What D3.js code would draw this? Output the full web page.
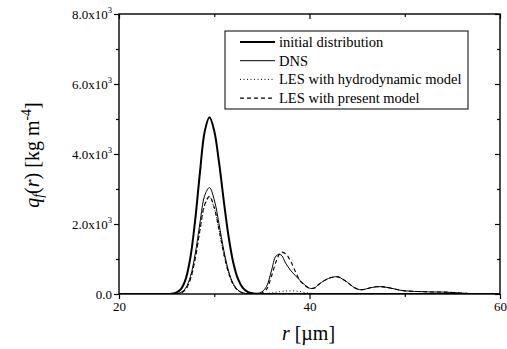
<!DOCTYPE html>
<html>
<head>
<meta charset="utf-8">
<script src="https://cdn.jsdelivr.net/npm/d3@7"></script>
</head>
<body style="margin:0;background:#fff">
<svg id="chart" width="507" height="349" style="display:block"></svg>
<script>
// ---- data ----
const radius = [20,20.5,21,21.5,22,22.5,23,23.5,24,24.5,25,25.5,26,26.5,27,27.5,28,28.5,29,29.5,
  30,30.5,31,31.5,32,32.5,33,33.5,34,34.5,35,35.5,36,36.5,37,37.5,38,38.5,39,39.5,
  40,40.5,41,41.5,42,42.5,43,43.5,44,44.5,45,45.5,46,46.5,47,47.5,48,48.5,49,49.5,
  50,50.5,51,51.5,52,52.5,53,53.5,54,54.5,55,55.5,56,56.5,57,57.5,58,58.5,59,59.5,60];

const initialDist = [0,0,0,0,0,0,0,0,0,0,1,8,37,138,423,1050,2118,3478,4645,5048,
  4659,3765,2663,1650,894,424,176,64,20,6,0,0,0,0,0,0,0,0,0,0,
  0,0,0,0,0,0,0,0,0,0,0,0,0,0,0,0,0,0,0,0,
  0,0,0,0,0,0,0,0,0,0,0,0,0,0,0,0,0,0,0,0,0];

const dns = [0,0,0,0,0,0,0,0,0,0,0,0,9,45,171,502,1144,2034,2815,3040,
  2691,2004,1254,660,292,108,34,10,4,15,60,220,660,1090,1120,880,680,530,390,260,
  165,170,280,375,445,485,490,420,330,220,145,120,150,185,205,210,195,170,140,110,
  90,82,75,70,65,60,58,56,55,50,45,35,25,18,10,6,3,1,0,0,0];

const lesHydro = [0,0,0,0,0,0,0,0,0,0,0,0,5,28,130,420,990,1800,2530,2760,
  2450,1830,1140,600,265,98,30,9,2,2,5,15,30,50,70,85,90,85,70,45,
  25,10,3,0,0,0,0,0,0,0,0,0,0,0,0,0,0,0,0,0,
  0,0,0,0,0,0,0,0,0,0,0,0,0,0,0,0,0,0,0,0,0];

const lesPresent = [0,0,0,0,0,0,0,0,0,0,0,0,5,30,135,430,1010,1830,2560,2790,
  2470,1840,1150,605,268,99,31,9,3,8,30,140,500,930,1190,1150,950,650,380,250,
  165,170,280,375,445,485,490,420,330,220,145,120,150,185,205,210,195,170,140,110,
  90,82,75,70,65,60,58,56,55,50,45,35,25,18,10,6,3,1,0,0,0];

const xMajorTicks = [20,40,60];
const xMinorTicks = [30,50];
const yMajorTicks = [0,2000,4000,6000,8000];
const yMajorLabels = ["0.0","2.0x10","4.0x10","6.0x10","8.0x10"];
const yMinorTicks = [1000,3000,5000,7000];
const seriesNames = ["initial distribution","DNS","LES with hydrodynamic model","LES with present model"];

// ---- layout ----
const FONT = "Liberation Serif";
const svg = d3.select("#chart");
const L = 119, R = 500, T = 14, B = 294;
const x = d3.scaleLinear().domain([20,60]).range([L,R]);
const y = d3.scaleLinear().domain([0,8000]).range([B,T]);

const series = [
  {name: seriesNames[0], vals: initialDist, w: 2.0, dash: null},
  {name: seriesNames[1], vals: dns, w: 1.0, dash: null},
  {name: seriesNames[2], vals: lesHydro, w: 1.0, dash: "1,2.5"},
  {name: seriesNames[3], vals: lesPresent, w: 1.1, dash: "4,3"}
];

const line = d3.line()
  .x((d,i) => x(radius[i]))
  .y(d => y(d))
  .curve(d3.curveCatmullRom.alpha(0.5));

svg.append("clipPath").attr("id","clip")
  .append("rect").attr("x",L).attr("y",T).attr("width",R-L).attr("height",B-T);

const g = svg.append("g").attr("clip-path","url(#clip)");
series.forEach(s => {
  g.append("path")
    .attr("d", line(s.vals))
    .attr("fill","none")
    .attr("stroke","#000")
    .attr("stroke-width", s.w)
    .attr("stroke-dasharray", s.dash);
});

// ---- axes ----
function styleAxis(a){
  a.select(".domain").remove();
  a.selectAll("line").attr("stroke","#000").attr("stroke-width",1.2);
  return a;
}
const axBottom = styleAxis(svg.append("g").attr("transform",`translate(0,${B})`)
  .call(d3.axisBottom(x).tickValues(xMajorTicks).tickSize(5).tickPadding(3).tickFormat(d3.format("d"))));
styleAxis(svg.append("g").attr("transform",`translate(0,${B})`)
  .call(d3.axisBottom(x).tickValues(xMinorTicks).tickSize(3).tickFormat("")));
styleAxis(svg.append("g").attr("transform",`translate(0,${T})`)
  .call(d3.axisBottom(x).tickValues(xMajorTicks).tickSize(5).tickFormat("")));
styleAxis(svg.append("g").attr("transform",`translate(0,${T})`)
  .call(d3.axisBottom(x).tickValues(xMinorTicks).tickSize(3).tickFormat("")));
styleAxis(svg.append("g").attr("transform",`translate(${L},0)`)
  .call(d3.axisLeft(y).tickValues(yMajorTicks).tickSize(5).tickFormat("")));
styleAxis(svg.append("g").attr("transform",`translate(${L},0)`)
  .call(d3.axisLeft(y).tickValues(yMinorTicks).tickSize(3).tickFormat("")));
styleAxis(svg.append("g").attr("transform",`translate(${R},0)`)
  .call(d3.axisLeft(y).tickValues(yMajorTicks).tickSize(5).tickFormat("")));
styleAxis(svg.append("g").attr("transform",`translate(${R},0)`)
  .call(d3.axisLeft(y).tickValues(yMinorTicks).tickSize(3).tickFormat("")));
axBottom.attr("font-family", FONT).attr("font-size", 13);
axBottom.selectAll("text").attr("font-family",FONT).attr("font-size",13).attr("fill","#000");

// y tick labels with superscript
yMajorTicks.forEach((v,i) => {
  const t = svg.append("text")
    .attr("x", L-7).attr("y", y(v)+4.5)
    .attr("text-anchor","end").attr("font-family",FONT)
    .attr("font-size",13).attr("fill","#000");
  t.append("tspan").text(yMajorLabels[i]);
  if (v !== 0) {
    t.append("tspan").attr("font-size",8.5).attr("dy",-6).text("3");
  }
});

// frame
svg.append("rect").attr("x",L).attr("y",T).attr("width",R-L).attr("height",B-T)
  .attr("fill","none").attr("stroke","#000").attr("stroke-width",1.4);

// axis titles
const xt = svg.append("text").attr("x",(L+R)/2 - 1).attr("y",340)
  .attr("text-anchor","middle").attr("font-family",FONT).attr("font-size",20).attr("fill","#000");
xt.append("tspan").attr("font-style","italic").text("r");
xt.append("tspan").text(" [\u00B5m]");

const yt = svg.append("text")
  .attr("transform","translate(39,155) rotate(-90)")
  .attr("text-anchor","middle").attr("font-family",FONT).attr("font-size",20).attr("fill","#000");
yt.append("tspan").attr("font-style","italic").text("q");
yt.append("tspan").attr("font-style","italic").attr("font-size",14).attr("dy",4).text("f");
yt.append("tspan").attr("dy",-4).text("(");
yt.append("tspan").attr("font-style","italic").text("r");
yt.append("tspan").text(") [kg m");
yt.append("tspan").attr("font-size",14).attr("dy",-8).text("-4");
yt.append("tspan").attr("dy",8).text("]");

// legend
svg.append("rect").attr("x",225).attr("y",31).attr("width",243).attr("height",78)
  .attr("fill","#fff").attr("stroke","#000").attr("stroke-width",1);
series.forEach((s,i) => {
  const yy = 42 + i*18.7;
  svg.append("line").attr("x1",240).attr("x2",275).attr("y1",yy).attr("y2",yy)
    .attr("stroke","#000").attr("stroke-width",s.w).attr("stroke-dasharray",s.dash);
  svg.append("text").attr("x",279).attr("y",yy+5).attr("font-family",FONT)
    .attr("font-size",14.5).attr("fill","#000").text(s.name);
});
</script>
</body>
</html>
